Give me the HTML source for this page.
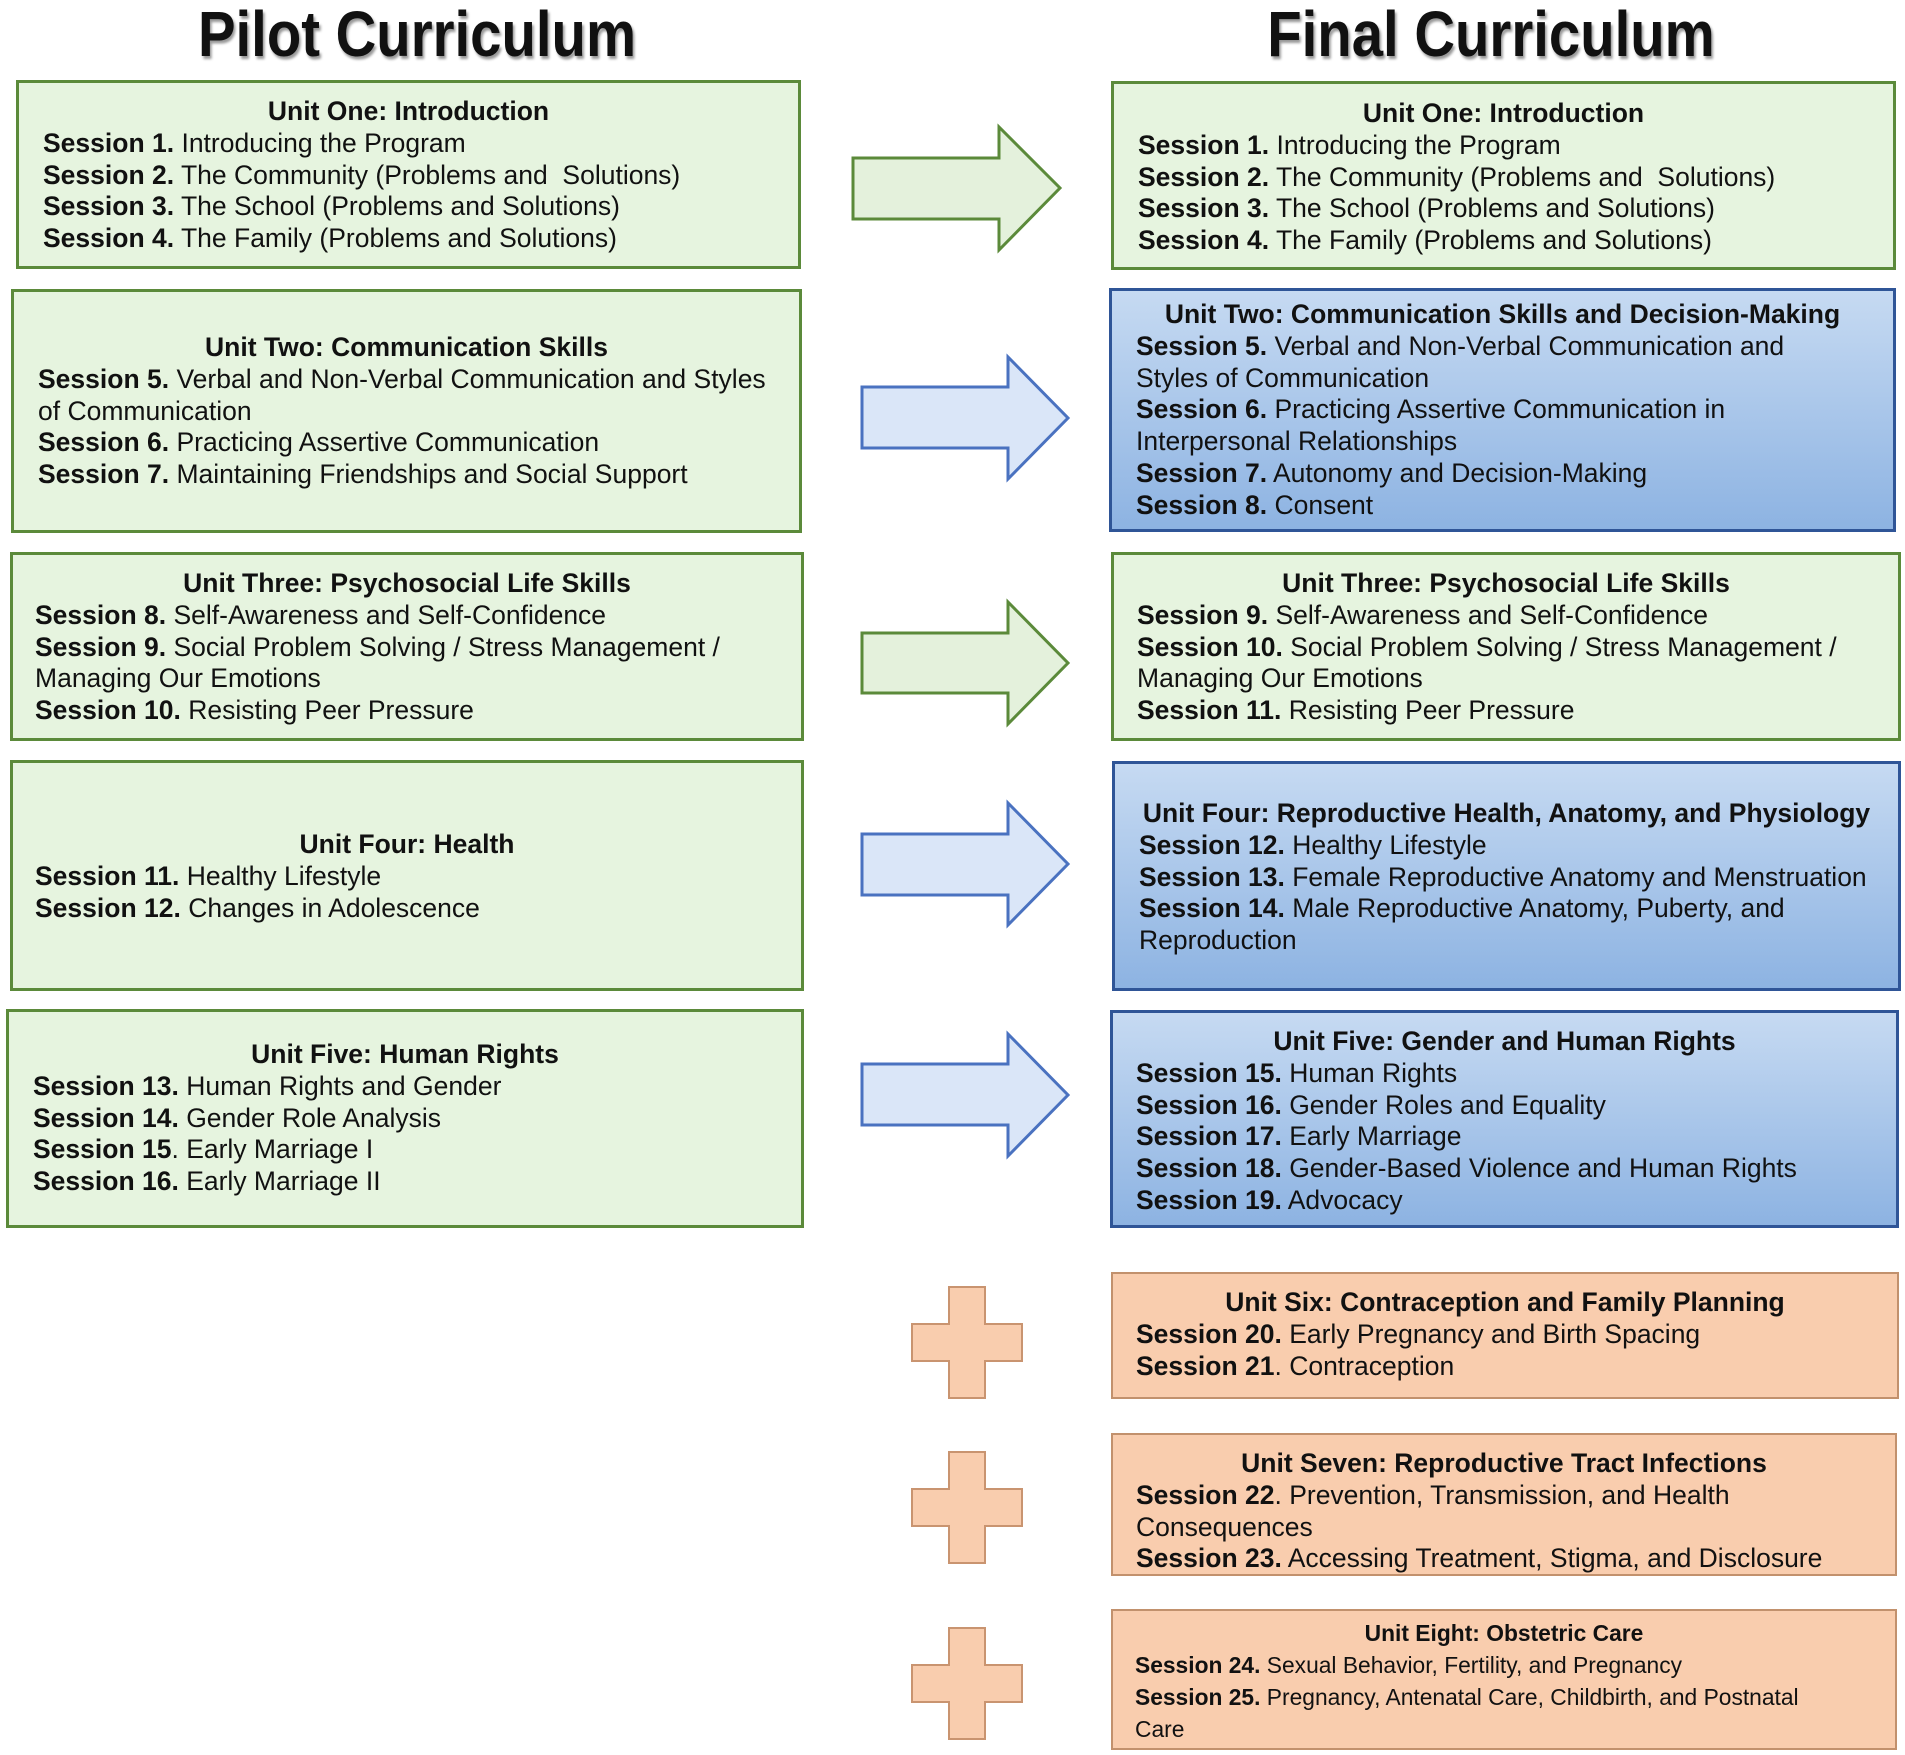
<!DOCTYPE html>
<html><head><meta charset="utf-8"><style>
body{margin:0;width:1905px;height:1755px;background:#fff;position:relative;overflow:hidden;font-family:"Liberation Sans",Arial,sans-serif;color:#111}
.t{position:absolute;top:2px;font-family:"Liberation Sans",sans-serif;font-weight:bold;font-size:64px;line-height:64px;text-align:center;width:700px;text-shadow:2px 3px 3px #999;transform:scaleX(0.88)}
.b{position:absolute;box-sizing:border-box;font-size:26.5px;line-height:31.7px;white-space:nowrap}
.g{background:#e6f4df;border:3px solid #5b8a3a}
.u{background:linear-gradient(#c6daf2,#8db3e2);border:3px solid #2f5597}
.o{background:#f9cdae;border:2px solid #c2916d}
.b div{position:absolute}
.h{font-weight:bold;text-align:center;left:0;right:0}
b{font-weight:bold}
svg{position:absolute;left:0;top:0}
</style></head><body>
<div class="t" style="left:67px">Pilot Curriculum</div>
<div class="t" style="left:1141px">Final Curriculum</div>

<svg width="1905" height="1755">
<g stroke-width="3" stroke-linejoin="miter">
<polygon points="853,158 999,158 999,127 1060,188 999,250 999,219 853,219" fill="#e4f1dc" stroke="#5b8a3a"/>
<polygon points="862,387 1008,387 1008,357 1068,418 1008,479 1008,448 862,448" fill="#dae6f8" stroke="#4a72c0"/>
<polygon points="862,633 1008,633 1008,602 1068,663 1008,724 1008,693 862,693" fill="#e4f1dc" stroke="#5b8a3a"/>
<polygon points="862,834 1008,834 1008,803 1068,864 1008,925 1008,895 862,895" fill="#dae6f8" stroke="#4a72c0"/>
<polygon points="862,1064 1008,1064 1008,1034 1068,1095 1008,1156 1008,1125 862,1125" fill="#dae6f8" stroke="#4a72c0"/>
</g>
<g fill="#f9cdae" stroke="#c99470" stroke-width="2">
<polygon points="949,1287 985,1287 985,1324 1022,1324 1022,1361 985,1361 985,1398 949,1398 949,1361 912,1361 912,1324 949,1324"/>
<polygon points="949,1452 985,1452 985,1489 1022,1489 1022,1526 985,1526 985,1563 949,1563 949,1526 912,1526 912,1489 949,1489"/>
<polygon points="949,1628 985,1628 985,1665 1022,1665 1022,1702 985,1702 985,1739 949,1739 949,1702 912,1702 912,1665 949,1665"/>
</g>
</svg>

<div class="b g" style="left:16px;top:80px;width:785px;height:189px">
<div class="h" style="top:13px">Unit One: Introduction</div>
<div style="left:24px;top:45px"><b>Session 1.</b> Introducing the Program<br><b>Session 2.</b> The Community (Problems and&nbsp; Solutions)<br><b>Session 3.</b> The School (Problems and Solutions)<br><b>Session 4.</b> The Family (Problems and Solutions)</div></div>

<div class="b g" style="left:11px;top:289px;width:791px;height:244px">
<div class="h" style="top:40px">Unit Two: Communication Skills</div>
<div style="left:24px;top:72px"><b>Session 5.</b> Verbal and Non-Verbal Communication and Styles<br>of Communication<br><b>Session 6.</b> Practicing Assertive Communication<br><b>Session 7.</b> Maintaining Friendships and Social Support</div></div>

<div class="b g" style="left:10px;top:552px;width:794px;height:189px">
<div class="h" style="top:13px">Unit Three: Psychosocial Life Skills</div>
<div style="left:22px;top:45px"><b>Session 8.</b> Self-Awareness and Self-Confidence<br><b>Session 9.</b> Social Problem Solving / Stress Management /<br>Managing Our Emotions<br><b>Session 10.</b> Resisting Peer Pressure</div></div>

<div class="b g" style="left:10px;top:760px;width:794px;height:231px">
<div class="h" style="top:66px">Unit Four: Health</div>
<div style="left:22px;top:98px"><b>Session 11.</b> Healthy Lifestyle<br><b>Session 12.</b> Changes in Adolescence</div></div>

<div class="b g" style="left:6px;top:1009px;width:798px;height:219px">
<div class="h" style="top:27px">Unit Five: Human Rights</div>
<div style="left:24px;top:59px"><b>Session 13.</b> Human Rights and Gender<br><b>Session 14.</b> Gender Role Analysis<br><b>Session 15</b>. Early Marriage I<br><b>Session 16.</b> Early Marriage II</div></div>

<div class="b g" style="left:1111px;top:81px;width:785px;height:189px">
<div class="h" style="top:14px">Unit One: Introduction</div>
<div style="left:24px;top:46px"><b>Session 1.</b> Introducing the Program<br><b>Session 2.</b> The Community (Problems and&nbsp; Solutions)<br><b>Session 3.</b> The School (Problems and Solutions)<br><b>Session 4.</b> The Family (Problems and Solutions)</div></div>

<div class="b u" style="left:1109px;top:288px;width:787px;height:244px">
<div class="h" style="top:8px">Unit Two: Communication Skills and Decision-Making</div>
<div style="left:24px;top:40px"><b>Session 5.</b> Verbal and Non-Verbal Communication and<br>Styles of Communication<br><b>Session 6.</b> Practicing Assertive Communication in<br>Interpersonal Relationships<br><b>Session 7.</b> Autonomy and Decision-Making<br><b>Session 8.</b> Consent</div></div>

<div class="b g" style="left:1111px;top:552px;width:790px;height:189px">
<div class="h" style="top:13px">Unit Three: Psychosocial Life Skills</div>
<div style="left:23px;top:45px"><b>Session 9.</b> Self-Awareness and Self-Confidence<br><b>Session 10.</b> Social Problem Solving / Stress Management /<br>Managing Our Emotions<br><b>Session 11.</b> Resisting Peer Pressure</div></div>

<div class="b u" style="left:1112px;top:761px;width:789px;height:230px">
<div class="h" style="top:34px">Unit Four: Reproductive Health, Anatomy, and Physiology</div>
<div style="left:24px;top:66px"><b>Session 12.</b> Healthy Lifestyle<br><b>Session 13.</b> Female Reproductive Anatomy and Menstruation<br><b>Session 14.</b> Male Reproductive Anatomy, Puberty, and<br>Reproduction</div></div>

<div class="b u" style="left:1110px;top:1010px;width:789px;height:218px">
<div class="h" style="top:13px">Unit Five: Gender and Human Rights</div>
<div style="left:23px;top:45px"><b>Session 15.</b> Human Rights<br><b>Session 16.</b> Gender Roles and Equality<br><b>Session 17.</b> Early Marriage<br><b>Session 18.</b> Gender-Based Violence and Human Rights<br><b>Session 19.</b> Advocacy</div></div>

<div class="b o" style="left:1111px;top:1272px;width:788px;height:127px">
<div class="h" style="top:13px">Unit Six: Contraception and Family Planning</div>
<div style="left:23px;top:45px"><b>Session 20.</b> Early Pregnancy and Birth Spacing<br><b>Session 21</b>. Contraception</div></div>

<div class="b o" style="left:1111px;top:1433px;width:786px;height:143px">
<div class="h" style="top:13px">Unit Seven: Reproductive Tract Infections</div>
<div style="left:23px;top:45px"><b>Session 22</b>. Prevention, Transmission, and Health<br>Consequences<br><b>Session 23.</b> Accessing Treatment, Stigma, and Disclosure</div></div>

<div class="b o" style="left:1111px;top:1609px;width:786px;height:141px;font-size:22.8px;line-height:32px">
<div class="h" style="top:6px">Unit Eight: Obstetric Care</div>
<div style="left:22px;top:38px"><b>Session 24.</b> Sexual Behavior, Fertility, and Pregnancy<br><b>Session 25.</b> Pregnancy, Antenatal Care, Childbirth, and Postnatal<br>Care</div></div>
</body></html>
